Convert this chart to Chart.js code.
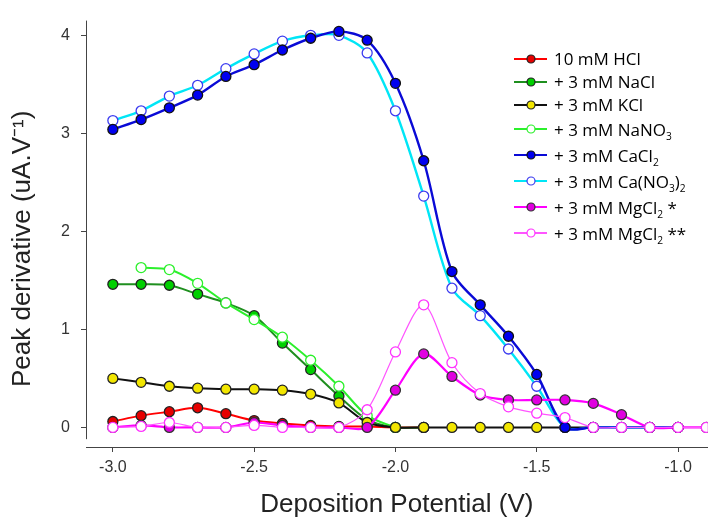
<!DOCTYPE html>
<html lang="en">
<head>
  <meta charset="UTF-8" />
  <title>Peak derivative vs deposition potential</title>
  <script src="https://cdn.jsdelivr.net/npm/chart.js"></script>
  <style>
    body {
      margin: 0;
      background: #fff;
    }

    #wrap {
      position: relative;
      width: 714px;
      height: 519px;
    }

    #legend {
      position: absolute;
      left: 514px;
      top: 47px;
      font-family: 'Open Sans', sans-serif;
      font-size: 17px;
      color: #000;
    }

    .row {
      display: flex;
      align-items: center;
      height: 23px;
      white-space: nowrap;
    }

    .row.tall {
      height: 26px;
    }

    .row svg {
      margin-right: 6px;
      flex: none;
    }

    sub {
      font-size: 60%;
      line-height: 0;
      vertical-align: -4px;
    }
  </style>
</head>
<body>
  <div id="wrap">
    <canvas id="grafico" width="714" height="519"></canvas>
    <div id="legend"></div>
  </div>

  <script>
    // deposition potential (V), one point every 0.1 V
    const potentials = [-3.0, -2.9, -2.8, -2.7, -2.6, -2.5, -2.4, -2.3, -2.2, -2.1, -2.0,
                        -1.9, -1.8, -1.7, -1.6, -1.5, -1.4, -1.3, -1.2, -1.1, -1.0, -0.9];

    const hcl     = [0.06, 0.12, 0.16, 0.20, 0.14, 0.07, 0.04, 0.02, 0.01, 0.01, 0.0, 0.0];
    const nacl    = [1.46, 1.46, 1.45, 1.36, 1.27, 1.14, 0.86, 0.59, 0.32, 0.08, 0.0, 0.0];
    const kcl     = [0.50, 0.46, 0.42, 0.40, 0.39, 0.39, 0.38, 0.34, 0.25, 0.05, 0.0,
                     0.0, 0.0, 0.0, 0.0, 0.0, 0.0, 0.0];
    const nano3   = [null, 1.63, 1.61, 1.47, 1.27, 1.10, 0.92, 0.685, 0.42, 0.12, 0.0];
    const cacl2   = [3.04, 3.14, 3.26, 3.39, 3.58, 3.70, 3.85, 3.97, 4.04, 3.95, 3.51,
                     2.72, 1.59, 1.25, 0.93, 0.54, 0.0, 0.0, 0.0, 0.0, 0.0];
    const cano32  = [3.13, 3.23, 3.38, 3.49, 3.66, 3.81, 3.94, 4.00, 4.00, 3.82, 3.23,
                     2.36, 1.42, 1.14, 0.80, 0.42, 0.0, 0.0, 0.0, 0.0, 0.0];
    const mgcl2a  = [0.0, 0.02, 0.0, 0.0, 0.0, 0.05, 0.02, 0.0, 0.0, 0.0, 0.38,
                     0.75, 0.52, 0.33, 0.28, 0.28, 0.28, 0.245, 0.13, 0.0, 0.0, 0.0];
    const mgcl2b  = [0.0, 0.01, 0.05, 0.0, 0.0, 0.02, 0.0, 0.0, 0.0, 0.18, 0.77,
                     1.25, 0.66, 0.345, 0.21, 0.145, 0.10, 0.0, 0.0, 0.0, 0.0, 0.0];

    const legendLabels = [
      '10 mM HCl',
      '+ 3 mM NaCl',
      '+ 3 mM KCl',
      '+ 3 mM NaNO<sub>3</sub>',
      '+ 3 mM CaCl<sub>2</sub>',
      '+ 3 mM Ca(NO<sub>3</sub>)<sub>2</sub>',
      '+ 3 mM MgCl<sub>2</sub> *',
      '+ 3 mM MgCl<sub>2</sub> **'
    ];

    const xTicks = [-3.0, -2.5, -2.0, -1.5, -1.0];
    const yTicks = [0, 1, 2, 3, 4];
    const yAxisEnd = -0.12;
    const yTitle = 'Peak derivative (uA.V⁻¹)';

    // line colour, point fill, point border, line width, order (lower = on top)
    const estilos = [
      { line: '#ff0000', fill: '#e60000', border: '#222', width: 2,   order: 8 },
      { line: '#1f8f1f', fill: '#00d000', border: '#222', width: 2,   order: 7 },
      { line: '#111111', fill: '#f2e600', border: '#222', width: 2,   order: 5 },
      { line: '#2cf02c', fill: '#ffffff', border: '#2cf02c', width: 2, order: 6 },
      { line: '#0a0ad6', fill: '#0000f0', border: '#111', width: 2.4, order: 3 },
      { line: '#00e6f6', fill: '#ffffff', border: '#3c3cf0', width: 2.4, order: 4 },
      { line: '#ff00ff', fill: '#e000e0', border: '#333', width: 2.2, order: 2 },
      { line: '#ff55ff', fill: '#ffffff', border: '#ff33ff', width: 1.2, order: 1 }
    ];

    const series = [hcl, nacl, kcl, nano3, cacl2, cano32, mgcl2a, mgcl2b];

    function pontos(valores) {
      return valores
        .map((v, i) => ({ x: potentials[i], y: v }))
        .filter(p => p.y !== null && p.y !== undefined);
    }

    const datasets = series.map((valores, i) => ({
      label: legendLabels[i].replace(/<\/?sub>/g, ''),
      data: pontos(valores),
      borderColor: estilos[i].line,
      borderWidth: estilos[i].width,
      backgroundColor: estilos[i].fill,
      pointBackgroundColor: estilos[i].fill,
      pointBorderColor: estilos[i].border,
      pointBorderWidth: 1.3,
      pointRadius: 5,
      tension: 0.3,
      order: estilos[i].order
    }));

    // y axis line stops a little above the x axis, and the y title sits a bit low, like the original
    const eixoY = {
      id: 'eixoY',
      afterDraw(chart) {
        const { ctx, chartArea, scales } = chart;
        const fim = scales.y.getPixelForValue(yAxisEnd);
        ctx.save();
        ctx.strokeStyle = '#444';
        ctx.lineWidth = 1;
        ctx.beginPath();
        ctx.moveTo(chartArea.left + 0.5, chartArea.top);
        ctx.lineTo(chartArea.left + 0.5, fim);
        ctx.stroke();

        const meio = (chartArea.top + fim) / 2 + 19;
        ctx.translate(23, meio);
        ctx.rotate(-Math.PI / 2);
        ctx.font = '26px "Liberation Sans"';
        ctx.fillStyle = '#222';
        ctx.textAlign = 'center';
        ctx.textBaseline = 'middle';
        ctx.fillText(yTitle, 0, 0);
        ctx.restore();
      }
    };

    new Chart(document.getElementById('grafico'), {
      type: 'line',
      data: { datasets: datasets },
      options: {
        responsive: false,
        animation: false,
        layout: { padding: { top: 15, right: 0, left: 0, bottom: 0 } },
        plugins: {
          legend: { display: false },
          tooltip: { enabled: false }
        },
        scales: {
          x: {
            type: 'linear',
            min: -3.095,
            max: -0.895,
            afterBuildTicks: axis => { axis.ticks = xTicks.map(v => ({ value: v })); },
            afterFit: axis => { axis.height = 72; },
            grid: { drawOnChartArea: false, tickLength: 5, color: '#444' },
            border: { color: '#444' },
            ticks: {
              padding: 6,
              color: '#333',
              font: { family: 'Liberation Sans', size: 16 },
              callback: v => v.toFixed(1)
            },
            title: {
              display: true,
              text: 'Deposition Potential (V)',
              color: '#222',
              font: { family: 'Liberation Sans', size: 26, lineHeight: 1.1 },
              padding: { top: 0, bottom: 0 }
            }
          },
          y: {
            min: -0.2,
            max: 4.15,
            afterBuildTicks: axis => { axis.ticks = yTicks.map(v => ({ value: v })); },
            afterFit: axis => { axis.width = 86; },
            grid: { drawOnChartArea: false, tickLength: 5, color: '#444' },
            border: { display: false },
            ticks: {
              padding: 11,
              color: '#333',
              font: { family: 'Liberation Sans', size: 16 }
            }
          }
        }
      },
      plugins: [eixoY]
    });

    // legend drawn as html so the subscripts stay real text
    const legendBox = document.getElementById('legend');
    legendLabels.forEach((texto, i) => {
      const e = estilos[i];
      const row = document.createElement('div');
      row.className = texto.includes('<sub>') ? 'row tall' : 'row';
      row.innerHTML =
        '<svg width="34" height="12"><line x1="0" y1="6" x2="33" y2="6" stroke="' + e.line +
        '" stroke-width="2"/><circle cx="17" cy="6" r="4" fill="' + e.fill +
        '" stroke="' + e.border + '" stroke-width="1.2"/></svg><span>' + texto + '</span>';
      legendBox.appendChild(row);
    });
  </script>
</body>
</html>
